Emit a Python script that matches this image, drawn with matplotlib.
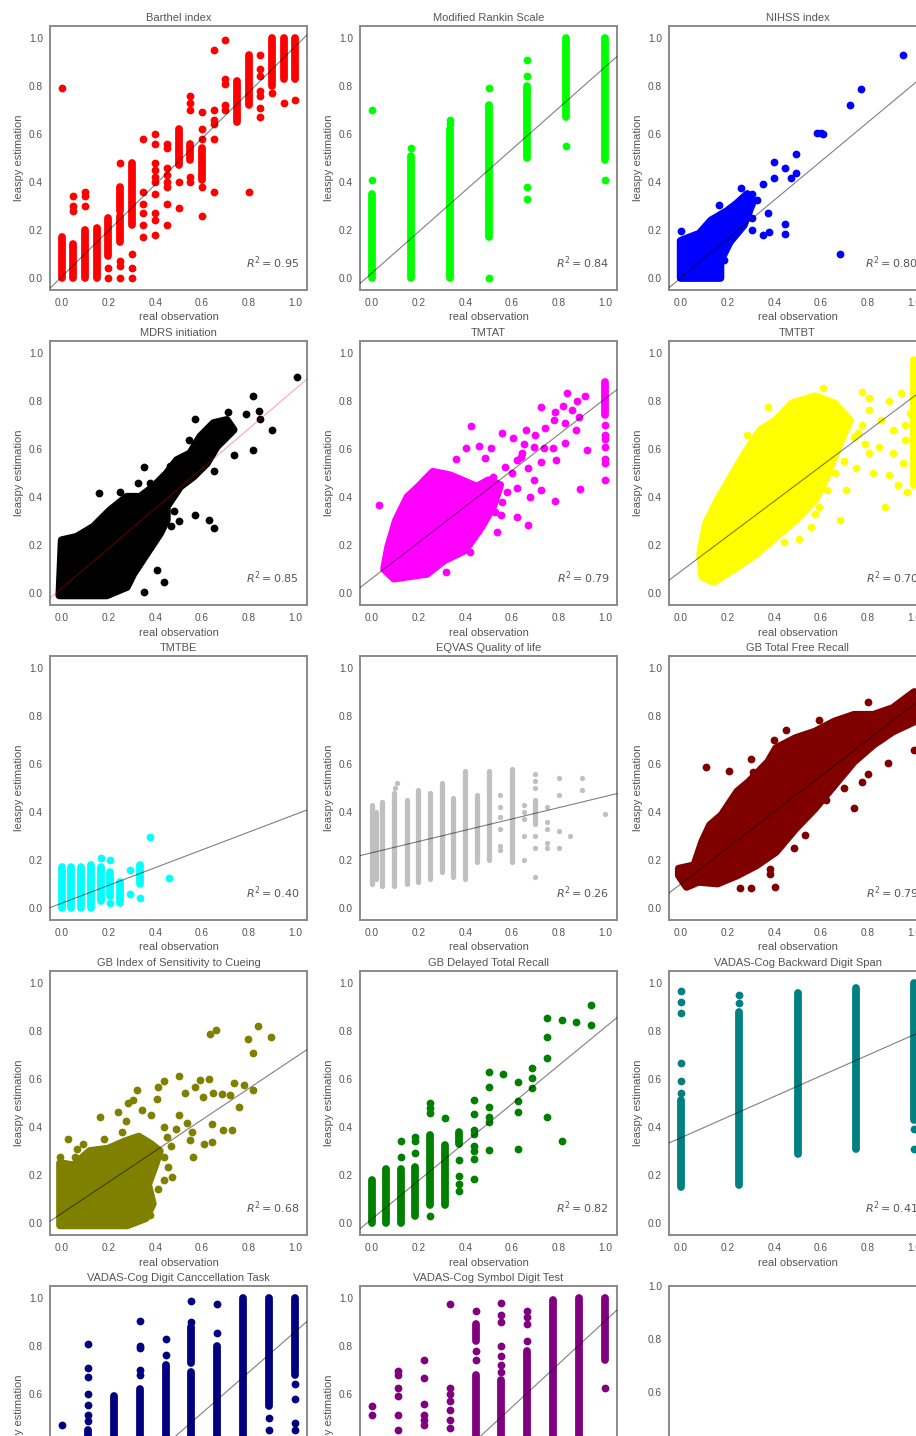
import numpy as np
import matplotlib
matplotlib.use("Agg")
import matplotlib.pyplot as plt

# ---- data (x = real observation, y = leaspy estimation)
# cols: dense vertical runs of points (x, y_low, y_high); pts: single points (x, y)
# blob: outline of a saturated cloud of points

barthel_cols = [(0.00, 0.00, 0.17), (0.05, 0.00, 0.14), (0.10, 0.00, 0.20), (0.15, 0.00, 0.21),
                (0.20, 0.09, 0.25), (0.25, 0.15, 0.26), (0.25, 0.28, 0.38), (0.30, 0.22, 0.48),
                (0.50, 0.47, 0.62), (0.55, 0.49, 0.56), (0.60, 0.41, 0.54), (0.75, 0.65, 0.82),
                (0.80, 0.72, 0.93), (0.90, 0.80, 1.00), (0.95, 0.83, 1.00), (1.00, 0.83, 1.00)]
barthel_pts = [(0.0, 0.79), (0.05, 0.34), (0.05, 0.30), (0.05, 0.28), (0.10, 0.36), (0.10, 0.34),
               (0.10, 0.30), (0.20, 0.04), (0.20, 0.00), (0.25, 0.48), (0.25, 0.07), (0.25, 0.05),
               (0.25, 0.00), (0.30, 0.10), (0.30, 0.04), (0.30, 0.00), (0.35, 0.58), (0.35, 0.36),
               (0.35, 0.31), (0.35, 0.27), (0.35, 0.22), (0.35, 0.17), (0.40, 0.60), (0.40, 0.56),
               (0.40, 0.48), (0.40, 0.45), (0.40, 0.42), (0.40, 0.40), (0.40, 0.35), (0.40, 0.27),
               (0.40, 0.24), (0.40, 0.18), (0.45, 0.56), (0.45, 0.54), (0.45, 0.46), (0.45, 0.43),
               (0.45, 0.40), (0.45, 0.38), (0.45, 0.31), (0.45, 0.22), (0.50, 0.40), (0.50, 0.29),
               (0.55, 0.76), (0.55, 0.73), (0.55, 0.70), (0.55, 0.42), (0.55, 0.40), (0.60, 0.69),
               (0.60, 0.62), (0.60, 0.58), (0.60, 0.38), (0.60, 0.26), (0.65, 0.95), (0.65, 0.70),
               (0.65, 0.66), (0.65, 0.64), (0.65, 0.58), (0.65, 0.36), (0.70, 0.99), (0.70, 0.83),
               (0.70, 0.81), (0.70, 0.72), (0.70, 0.70), (0.80, 0.36), (0.85, 0.93), (0.85, 0.87),
               (0.85, 0.84), (0.85, 0.78), (0.85, 0.76), (0.85, 0.71), (0.85, 0.67), (0.90, 0.77),
               (0.95, 0.73), (1.00, 0.74)]

rankin_cols = [(0.0, 0.0, 0.35), (1/6, 0.0, 0.51), (2/6, 0.0, 0.62), (3/6, 0.17, 0.72),
               (4/6, 0.50, 0.80), (5/6, 0.67, 1.0), (1.0, 0.49, 1.0)]
rankin_pts = [(0.0, 0.41), (0.0, 0.70), (1/6, 0.54), (2/6, 0.64), (2/6, 0.66), (3/6, 0.79),
              (3/6, 0.0), (4/6, 0.84), (4/6, 0.91), (4/6, 0.38), (4/6, 0.33), (5/6, 0.55), (1.0, 0.41)]

nihss_blob = [(0.0, 0.0), (0.17, 0.0), (0.17, 0.07), (0.21, 0.15), (0.27, 0.22), (0.31, 0.32),
              (0.285, 0.35), (0.24, 0.31), (0.20, 0.28), (0.13, 0.24), (0.08, 0.185), (0.0, 0.155)]
nihss_pts = [(0.951, 0.93), (0.771, 0.788), (0.725, 0.72), (0.583, 0.605), (0.60, 0.605),
             (0.61, 0.60), (0.493, 0.515), (0.493, 0.438), (0.447, 0.457), (0.472, 0.415),
             (0.399, 0.485), (0.399, 0.415), (0.351, 0.391), (0.257, 0.377), (0.306, 0.351),
             (0.326, 0.325), (0.375, 0.269), (0.306, 0.248), (0.162, 0.306), (0.212, 0.29),
             (0.354, 0.178), (0.378, 0.192), (0.306, 0.199), (0.447, 0.227), (0.447, 0.182),
             (0.68, 0.102), (0.187, 0.074), (0.003, 0.196), (0.146, 0.234)]

mdrs_blob = [(-0.01, -0.01), (0.193, -0.01), (0.279, 0.025), (0.307, 0.08), (0.364, 0.164),
             (0.421, 0.248), (0.45, 0.304), (0.45, 0.36), (0.507, 0.443), (0.564, 0.485),
             (0.621, 0.54), (0.664, 0.61), (0.736, 0.68), (0.707, 0.721), (0.65, 0.708),
             (0.593, 0.652), (0.55, 0.582), (0.493, 0.554), (0.45, 0.499), (0.393, 0.443),
             (0.336, 0.401), (0.279, 0.401), (0.207, 0.345), (0.136, 0.276), (0.064, 0.234),
             (0.0, 0.22)]
mdrs_pts = [(1.007, 0.898), (0.817, 0.822), (0.711, 0.756), (0.79, 0.745), (0.843, 0.76),
            (0.847, 0.727), (0.90, 0.68), (0.82, 0.596), (0.736, 0.575), (0.654, 0.51),
            (0.571, 0.724), (0.543, 0.638), (0.571, 0.325), (0.629, 0.304), (0.654, 0.269),
            (0.354, 0.526), (0.464, 0.53), (0.326, 0.457), (0.161, 0.418), (0.407, 0.095),
            (0.436, 0.046), (0.354, 0.004), (0.48, 0.34), (0.50, 0.30), (0.47, 0.28),
            (0.38, 0.46), (0.25, 0.42), (0.42, 0.36), (0.33, 0.15), (0.29, 0.10)]

tmtat_blob = [(0.053, 0.10), (0.095, 0.06), (0.237, 0.08), (0.31, 0.136), (0.40, 0.178),
              (0.47, 0.276), (0.52, 0.36), (0.55, 0.45), (0.50, 0.47), (0.45, 0.443),
              (0.337, 0.49), (0.262, 0.505), (0.20, 0.443), (0.153, 0.40), (0.103, 0.30),
              (0.07, 0.19)]
tmtat_cols = [(1.0, 0.74, 0.88)]
tmtat_pts = [(1.0, 0.70), (1.0, 0.66), (1.0, 0.64), (1.0, 0.61), (1.0, 0.56), (1.0, 0.54),
             (1.0, 0.47), (0.837, 0.833), (0.912, 0.822), (0.723, 0.774), (0.783, 0.756),
             (0.857, 0.763), (0.887, 0.735), (0.828, 0.708), (0.875, 0.68), (0.742, 0.687),
             (0.92, 0.596), (0.828, 0.624), (0.775, 0.606), (0.723, 0.547), (0.787, 0.554),
             (0.425, 0.696), (0.558, 0.666), (0.603, 0.645), (0.662, 0.68), (0.695, 0.61),
             (0.737, 0.603), (0.637, 0.568), (0.67, 0.52), (0.695, 0.47), (0.62, 0.436),
             (0.558, 0.38), (0.528, 0.338), (0.553, 0.325), (0.62, 0.318), (0.67, 0.283),
             (0.537, 0.255), (0.678, 0.40), (0.725, 0.43), (0.783, 0.383), (0.892, 0.432),
             (0.033, 0.366), (0.173, 0.404), (0.362, 0.557), (0.403, 0.606), (0.458, 0.613),
             (0.512, 0.603), (0.487, 0.561), (0.32, 0.088), (0.42, 0.17), (0.453, 0.26),
             (0.477, 0.318), (0.52, 0.485), (0.57, 0.526), (0.62, 0.554), (0.645, 0.582),
             (0.58, 0.42), (0.60, 0.50), (0.65, 0.62), (0.70, 0.66), (0.78, 0.72), (0.82, 0.78),
             (0.88, 0.80)]

tmtbt_blob = [(0.092, 0.067), (0.142, 0.046), (0.242, 0.109), (0.325, 0.164), (0.408, 0.234),
              (0.492, 0.304), (0.575, 0.387), (0.625, 0.485), (0.675, 0.61), (0.725, 0.72),
              (0.658, 0.79), (0.575, 0.82), (0.475, 0.79), (0.408, 0.72), (0.342, 0.68),
              (0.275, 0.582), (0.225, 0.50), (0.158, 0.387), (0.108, 0.29), (0.083, 0.164)]
tmtbt_cols = [(1.0, 0.45, 0.97)]
tmtbt_pts = [(0.608, 0.854), (0.775, 0.836), (0.808, 0.812), (0.892, 0.798), (0.942, 0.833),
             (0.808, 0.763), (0.858, 0.72), (0.908, 0.68), (0.958, 0.638), (0.808, 0.582),
             (0.85, 0.61), (0.758, 0.666), (0.775, 0.70), (0.908, 0.582), (0.95, 0.54),
             (0.825, 0.50), (0.892, 0.492), (0.875, 0.36), (0.683, 0.304), (0.708, 0.43),
             (0.625, 0.43), (0.575, 0.33), (0.59, 0.36), (0.508, 0.227), (0.442, 0.213),
             (0.558, 0.276), (0.283, 0.66), (0.375, 0.777), (0.692, 0.735), (0.74, 0.65),
             (0.70, 0.55), (0.66, 0.50), (0.75, 0.52), (0.79, 0.62), (0.98, 0.75), (0.96, 0.70),
             (0.97, 0.42), (0.93, 0.45)]

tmtbe_cols = [(0/24, 0.0, 0.17), (1/24, 0.0, 0.17), (2/24, 0.0, 0.17), (3/24, 0.0, 0.18),
              (4/24, 0.03, 0.17), (5/24, 0.05, 0.15), (6/24, 0.02, 0.11), (8/24, 0.10, 0.18)]
tmtbe_pts = [(4/24, 0.21), (5/24, 0.20), (5/24, 0.02), (7/24, 0.16), (7/24, 0.06), (8/24, 0.04),
             (0.379, 0.294), (0.461, 0.127)]

eqvas_cols = [(0.0, 0.10, 0.43), (0.02, 0.12, 0.40), (0.045, 0.09, 0.44), (0.095, 0.09, 0.48),
              (0.15, 0.10, 0.45), (0.20, 0.11, 0.49), (0.25, 0.12, 0.48), (0.30, 0.15, 0.52),
              (0.35, 0.13, 0.46), (0.40, 0.12, 0.57), (0.45, 0.19, 0.47), (0.50, 0.20, 0.57),
              (0.60, 0.19, 0.58), (0.70, 0.35, 0.45)]
eqvas_pts = [(0.10, 0.50), (0.11, 0.52), (0.55, 0.47), (0.55, 0.42), (0.55, 0.38), (0.55, 0.33),
             (0.55, 0.26), (0.55, 0.24), (0.65, 0.43), (0.65, 0.40), (0.65, 0.37), (0.65, 0.30),
             (0.65, 0.20), (0.70, 0.56), (0.70, 0.53), (0.70, 0.50), (0.70, 0.30), (0.70, 0.25),
             (0.70, 0.13), (0.75, 0.42), (0.75, 0.36), (0.75, 0.33), (0.75, 0.27), (0.75, 0.25),
             (0.80, 0.54), (0.80, 0.47), (0.80, 0.32), (0.80, 0.25), (0.85, 0.30), (0.90, 0.54),
             (0.90, 0.49), (1.00, 0.39)]

gbtotal_blob = [(-0.008, 0.136), (0.025, 0.088), (0.075, 0.109), (0.158, 0.102), (0.242, 0.136),
                (0.325, 0.178), (0.408, 0.234), (0.492, 0.331), (0.575, 0.415), (0.658, 0.512),
                (0.742, 0.61), (0.825, 0.68), (0.908, 0.735), (1.0, 0.777), (1.0, 0.90),
                (0.908, 0.833), (0.825, 0.805), (0.742, 0.805), (0.658, 0.777), (0.575, 0.735),
                (0.492, 0.708), (0.408, 0.666), (0.375, 0.61), (0.292, 0.526), (0.242, 0.485),
                (0.175, 0.387), (0.125, 0.345), (0.092, 0.276), (0.058, 0.178), (-0.008, 0.164)]
gbtotal_pts = [(0.108, 0.589), (0.208, 0.571), (0.255, 0.085), (0.30, 0.085), (0.403, 0.088),
               (0.383, 0.164), (0.383, 0.14), (0.483, 0.252), (0.533, 0.304), (0.742, 0.415),
               (0.888, 0.603), (0.80, 0.858), (0.967, 0.868), (0.592, 0.784), (0.308, 0.568),
               (0.775, 0.526), (1.0, 0.659), (0.80, 0.56), (0.70, 0.50), (0.62, 0.45),
               (0.30, 0.62), (0.40, 0.70), (0.45, 0.74)]

gbindex_blob = [(-0.007, -0.01), (0.28, -0.01), (0.36, 0.02), (0.39, 0.08), (0.37, 0.16),
                (0.40, 0.24), (0.42, 0.30), (0.38, 0.33), (0.33, 0.36), (0.27, 0.34),
                (0.20, 0.31), (0.12, 0.30), (0.05, 0.24), (-0.007, 0.25)]
gbindex_pts = [(0.839, 0.822), (0.796, 0.766), (0.897, 0.777), (0.817, 0.707), (0.633, 0.788),
               (0.661, 0.805), (0.50, 0.613), (0.436, 0.593), (0.411, 0.568), (0.407, 0.515),
               (0.321, 0.554), (0.307, 0.513), (0.283, 0.50), (0.239, 0.464), (0.164, 0.44),
               (0.276, 0.426), (0.343, 0.471), (0.381, 0.448), (0.50, 0.45), (0.536, 0.415),
               (0.557, 0.38), (0.55, 0.345), (0.564, 0.273), (0.61, 0.331), (0.643, 0.338),
               (0.643, 0.412), (0.69, 0.387), (0.729, 0.387), (0.757, 0.482), (0.721, 0.533),
               (0.736, 0.585), (0.779, 0.575), (0.817, 0.554), (0.686, 0.538), (0.647, 0.54),
               (0.607, 0.526), (0.571, 0.568), (0.593, 0.596), (0.629, 0.599), (0.529, 0.543),
               (0.029, 0.348), (0.067, 0.308), (0.057, 0.276), (-0.007, 0.273), (0.414, 0.143),
               (0.367, 0.109), (0.436, 0.276), (0.457, 0.234), (0.471, 0.192), (0.436, 0.178),
               (0.379, 0.032), (0.45, 0.36), (0.47, 0.32), (0.49, 0.39), (0.44, 0.40),
               (0.09, 0.33), (0.18, 0.35), (0.26, 0.38)]

gbdel_cols = [(0/16, 0.0, 0.18), (1/16, 0.0, 0.227), (2/16, 0.0, 0.227), (3/16, 0.03, 0.234),
              (4/16, 0.074, 0.366), (5/16, 0.074, 0.325), (6/16, 0.33, 0.38)]
gbdel_pts = [(2/16, 0.273), (2/16, 0.343), (3/16, 0.29), (3/16, 0.34), (3/16, 0.36), (4/16, 0.03),
             (4/16, 0.46), (4/16, 0.48), (4/16, 0.50), (5/16, 0.436), (6/16, 0.262), (6/16, 0.195),
             (6/16, 0.164), (6/16, 0.132), (7/16, 0.513), (7/16, 0.453), (7/16, 0.387),
             (7/16, 0.37), (7/16, 0.32), (7/16, 0.30), (7/16, 0.265), (7/16, 0.185),
             (8/16, 0.628), (8/16, 0.568), (8/16, 0.485), (8/16, 0.44), (8/16, 0.42),
             (8/16, 0.304), (9/16, 0.621), (10/16, 0.589), (10/16, 0.51), (10/16, 0.461),
             (10/16, 0.31), (11/16, 0.645), (11/16, 0.606), (11/16, 0.564), (12/16, 0.44),
             (12/16, 0.687), (12/16, 0.774), (12/16, 0.854), (13/16, 0.343), (13/16, 0.847),
             (14/16, 0.836), (15/16, 0.909), (15/16, 0.826)]

vback_cols = [(0.0, 0.15, 0.513), (0.25, 0.157, 0.88), (0.5, 0.287, 0.958), (0.75, 0.31, 0.979),
              (1.0, 0.43, 1.0)]
vback_pts = [(0.0, 0.54), (0.0, 0.592), (0.0, 0.666), (0.0, 0.875), (0.0, 0.919), (0.0, 0.965),
             (0.25, 0.916), (0.25, 0.95), (1.0, 0.39), (1.0, 0.31)]

dcanc_cols = [(0/9, 0.0, 0.30), (1/9, 0.0, 0.45), (2/9, 0.0, 0.59), (3/9, 0.0, 0.62),
              (4/9, 0.0, 0.72), (5/9, 0.0, 0.69), (5/9, 0.73, 0.88), (6/9, 0.0, 0.80),
              (7/9, 0.05, 1.0), (8/9, 0.55, 1.0), (8/9, 0.1, 0.42), (9/9, 0.68, 1.0),
              (9/9, 0.2, 0.42)]
dcanc_pts = [(0.0, 0.47), (1/9, 0.81), (1/9, 0.71), (1/9, 0.67), (1/9, 0.60), (1/9, 0.556),
             (1/9, 0.514), (1/9, 0.486), (3/9, 0.906), (3/9, 0.80), (3/9, 0.79), (3/9, 0.70),
             (3/9, 0.68), (4/9, 0.83), (4/9, 0.764), (5/9, 0.986), (5/9, 0.90), (6/9, 0.975),
             (6/9, 0.854), (8/9, 0.50), (8/9, 0.45), (1.0, 0.64), (1.0, 0.58), (1.0, 0.48),
             (1.0, 0.45)]

sdig_cols = [(0/9, 0.0, 0.30), (1/9, 0.0, 0.40), (2/9, 0.0, 0.42), (3/9, 0.0, 0.42),
             (4/9, 0.82, 0.89), (4/9, 0.0, 0.68), (5/9, 0.0, 0.66), (6/9, 0.0, 0.78),
             (7/9, 0.0, 0.99), (8/9, 0.0, 1.0), (1.0, 0.74, 1.0)]
sdig_pts = [(0.0, 0.55), (0.0, 0.514), (1/9, 0.695), (1/9, 0.68), (1/9, 0.625), (1/9, 0.59),
            (1/9, 0.514), (1/9, 0.45), (2/9, 0.74), (2/9, 0.667), (2/9, 0.56), (2/9, 0.514),
            (2/9, 0.49), (2/9, 0.47), (3/9, 0.975), (3/9, 0.625), (3/9, 0.60), (3/9, 0.57),
            (3/9, 0.535), (3/9, 0.49), (3/9, 0.46), (4/9, 0.947), (4/9, 0.78), (4/9, 0.74),
            (5/9, 0.98), (5/9, 0.93), (5/9, 0.90), (5/9, 0.80), (5/9, 0.76), (5/9, 0.72),
            (5/9, 0.69), (6/9, 0.944), (6/9, 0.92), (6/9, 0.89), (6/9, 0.82), (1.0, 0.625)]

titles = ["Barthel index", "Modified Rankin Scale", "NIHSS index",
          "MDRS initiation", "TMTAT", "TMTBT",
          "TMTBE", "EQVAS Quality of life", "GB Total Free Recall",
          "GB Index of Sensitivity to Cueing", "GB Delayed Total Recall",
          "VADAS-Cog Backward Digit Span",
          "VADAS-Cog Digit Canccellation Task", "VADAS-Cog Symbol Digit Test"]
colors = ["red", "lime", "blue", "black", "magenta", "yellow", "cyan", "silver",
          "maroon", "olive", "green", "teal", "navy", "purple"]
r2_values = [0.95, 0.84, 0.80, 0.85, 0.79, 0.70, 0.40, 0.26, 0.79, 0.68, 0.82, 0.41, 0.78, 0.80]
fit_slope = [0.96, 0.86, 0.81, 0.83, 0.75, 0.73, 0.37, 0.235, 0.75, 0.65, 0.80, 0.43, 0.85, 0.90]
fit_intercept = [0.005, 0.02, 0.0, 0.02, 0.06, 0.09, 0.02, 0.23, 0.10, 0.04, 0.016, 0.355, 0.01, 0.005]
panel_cols = [barthel_cols, rankin_cols, [], [], tmtat_cols, tmtbt_cols, tmtbe_cols, eqvas_cols,
              [], [], gbdel_cols, vback_cols, dcanc_cols, sdig_cols]
panel_pts = [barthel_pts, rankin_pts, nihss_pts, mdrs_pts, tmtat_pts, tmtbt_pts, tmtbe_pts,
             eqvas_pts, gbtotal_pts, gbindex_pts, gbdel_pts, vback_pts, dcanc_pts, sdig_pts]
panel_blob = [None, None, nihss_blob, mdrs_blob, tmtat_blob, tmtbt_blob, None, None,
              gbtotal_blob, gbindex_blob, None, None, None, None]

# ---- style
plt.rcParams["font.family"] = ["Liberation Sans", "DejaVu Sans"]
TXT = "#555555"
EDGE = "#8a8a8a"
W, H, DPI = 916, 1436, 100
fig = plt.figure(figsize=(W / DPI, H / DPI), dpi=DPI)

lefts = [50, 360, 669]
ax_w, ax_h = 257, 264
ticks = [0.0, 0.2, 0.4, 0.6, 0.8, 1.0]


def style(ax):
    for s in ax.spines.values():
        s.set_color(EDGE)
        s.set_linewidth(1.4)
    ax.tick_params(length=0, labelsize=7.3, labelcolor=TXT)
    ax.tick_params(axis="x", pad=5.5)
    ax.tick_params(axis="y", pad=5)


for i in range(15):
    r, c = divmod(i, 3)
    top = 26 + 315 * r
    ax = fig.add_axes([lefts[c] / W, 1 - (top + ax_h) / H, ax_w / W, ax_h / H])
    style(ax)
    if i == 14:
        ax.set_xticks(ticks)
        ax.set_yticks(ticks)
        continue

    col = colors[i]
    small = col == "silver"
    diam = 3.8 if small else 5.6          # marker diameter in points
    size = diam ** 2

    blob = panel_blob[i]
    if blob is not None:
        bx, by = zip(*blob)
        ax.fill(bx, by, facecolor=col, edgecolor=col, lw=diam, joinstyle="round", zorder=2)
    if panel_cols[i]:
        cx, lo, hi = zip(*panel_cols[i])
        ax.vlines(cx, lo, hi, colors=col, lw=diam, capstyle="round", zorder=2)
    px, py = zip(*panel_pts[i])
    ax.scatter(px, py, s=size, c=col, linewidths=0, zorder=2)

    xl = np.array([-0.05, 1.05])
    line_col = "red" if col == "black" else "black"
    ax.plot(xl, fit_slope[i] * xl + fit_intercept[i], color=line_col,
            alpha=0.35 if col == "black" else 0.5, lw=0.8, zorder=3)

    ax.set_xlim(-0.05, 1.05)
    ax.set_ylim(-0.05, 1.05)
    ax.set_xticks(ticks)
    ax.set_yticks(ticks)
    ax.set_xticklabels([f"{t:.1f}" for t in ticks])
    ax.set_yticklabels([f"{t:.1f}" for t in ticks])
    ax.set_title(titles[i], fontsize=8, color=TXT, pad=3.5)
    ax.set_xlabel("real observation", fontsize=8, color=TXT, labelpad=3.5)
    ax.set_ylabel("leaspy estimation", fontsize=8, color=TXT, labelpad=3.5)
    ax.text(0.97, 0.105, f"$R^2 = {r2_values[i]:.2f}$", transform=ax.transAxes,
            ha="right", va="center", fontsize=8, color=TXT)

fig.savefig("out.png", dpi=DPI)
